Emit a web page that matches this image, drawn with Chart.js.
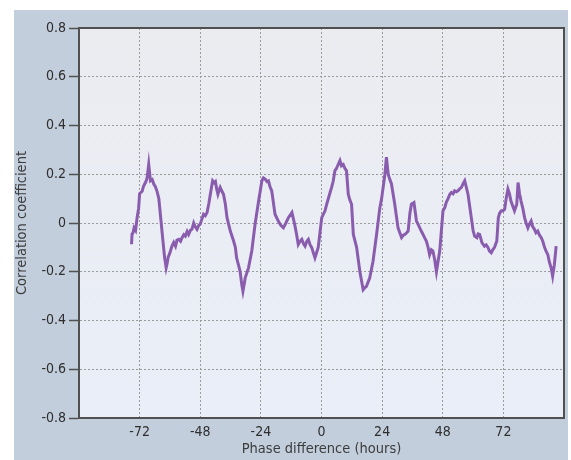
<!DOCTYPE html>
<html>
<head>
<meta charset="utf-8">
<script src="https://cdn.jsdelivr.net/npm/chart.js@4/dist/chart.umd.min.js"></script>
<style>
  html, body { margin: 0; padding: 0; background: #ffffff; }
  #wrap { width: 571px; height: 460px; }
</style>
</head>
<body>
<div id="wrap"><canvas id="corrChart" width="571" height="460"></canvas></div>
<script>
// phase difference in hours and the correlation at each lag
var phaseHours = [
    -75.2, -75.0, -74.6, -74.2, -73.6, -73.0, -72.4, -72.0, -71.0, -70.5,
    -70.0, -69.5, -69.0, -68.4, -68.0, -67.7, -67.0, -66.4, -65.8, -65.1,
    -64.4, -63.8, -62.9, -62.1, -61.5, -61.1, -60.7, -60.2, -59.8, -59.2,
    -58.5, -57.8, -57.2, -56.5, -55.8, -55.2, -54.5, -53.9, -53.2, -52.6,
    -51.9, -51.3, -50.6, -50.0, -49.3, -48.6, -48.0, -47.4, -46.7, -46.0,
    -45.3, -44.6, -44.0, -43.1, -42.5, -42.0, -41.5, -41.0, -40.5, -40.1,
    -39.4, -38.8, -38.1, -37.4, -36.1, -34.8, -34.1, -33.6, -32.8, -32.2,
    -31.6, -31.1, -30.6, -30.2, -28.9, -27.6, -26.3, -24.9, -23.6, -23.0,
    -22.3, -21.6, -21.0, -20.4, -19.7, -18.4, -17.1, -16.1, -15.1, -14.1,
    -13.1, -11.7, -10.5, -9.8, -9.2, -8.5, -7.8, -7.1, -6.5, -5.8,
    -5.2, -4.5, -3.9, -2.6, -1.9, -1.3, 0.1, 0.7, 1.4, 2.0,
    2.7, 3.4, 4.0, 4.6, 5.3, 6.0, 6.6, 7.3, 7.9, 8.6,
    9.2, 9.9, 10.6, 11.2, 11.9, 12.6, 13.9, 15.2, 16.5, 17.2,
    17.8, 19.1, 20.4, 21.8, 23.1, 23.8, 24.4, 25.1, 25.7, 26.4,
    27.0, 27.7, 29.0, 30.3, 31.0, 31.7, 32.4, 33.0, 33.7, 34.3,
    35.0, 35.6, 36.6, 37.6, 38.2, 38.9, 39.6, 40.2, 40.8, 41.5,
    42.2, 42.8, 43.5, 44.1, 44.8, 45.5, 46.1, 46.8, 48.1, 48.8,
    49.4, 50.1, 50.8, 51.4, 52.1, 52.7, 53.4, 54.0, 54.7, 55.4,
    56.0, 56.7, 58.0, 59.3, 60.0, 60.6, 61.5, 62.0, 62.6, 63.5,
    64.5, 65.2, 65.9, 66.5, 67.2, 67.8, 68.5, 69.4, 70.0, 70.5,
    71.2, 71.8, 72.5, 73.1, 73.8, 74.4, 75.0, 75.7, 76.4, 77.3,
    77.8, 78.4, 79.0, 79.7, 80.4, 81.0, 81.7, 82.3, 83.0, 83.6,
    84.3, 84.9, 85.6, 86.3, 87.0, 87.6, 88.3, 88.9, 89.6, 90.2,
    90.9, 91.5, 92.2, 92.9
];
var correlation = [
    -0.087, -0.045, -0.040, -0.020, -0.030, 0.022, 0.060, 0.120, 0.130, 0.150,
    0.160, 0.170, 0.187, 0.240, 0.200, 0.173, 0.178, 0.160, 0.150, 0.130,
    0.100, 0.037, -0.060, -0.143, -0.184, -0.165, -0.140, -0.128, -0.115, -0.095,
    -0.080, -0.095, -0.070, -0.067, -0.075, -0.060, -0.048, -0.054, -0.035, -0.047,
    -0.030, -0.026, 0.000, -0.015, -0.026, -0.010, -0.005, 0.015, 0.036, 0.030,
    0.043, 0.080, 0.118, 0.173, 0.165, 0.170, 0.140, 0.118, 0.135, 0.146,
    0.130, 0.118, 0.080, 0.022, -0.033, -0.074, -0.100, -0.143, -0.175, -0.200,
    -0.250, -0.280, -0.250, -0.225, -0.184, -0.115, -0.005, 0.090, 0.173, 0.185,
    0.180, 0.170, 0.173, 0.150, 0.132, 0.036, 0.008, -0.010, -0.020, 0.000,
    0.022, 0.043, -0.012, -0.050, -0.088, -0.075, -0.067, -0.085, -0.095, -0.075,
    -0.067, -0.090, -0.100, -0.143, -0.120, -0.100, 0.022, 0.035, 0.050, 0.075,
    0.100, 0.125, 0.146, 0.170, 0.214, 0.225, 0.240, 0.256, 0.235, 0.240,
    0.225, 0.214, 0.118, 0.095, 0.077, -0.047, -0.100, -0.200, -0.274, -0.265,
    -0.260, -0.225, -0.157, -0.047, 0.063, 0.100, 0.146, 0.200, 0.270, 0.200,
    0.180, 0.160, 0.077, -0.020, -0.040, -0.060, -0.050, -0.047, -0.040, -0.033,
    0.040, 0.077, 0.084, 0.008, -0.005, -0.020, -0.035, -0.047, -0.060, -0.074,
    -0.100, -0.130, -0.110, -0.115, -0.150, -0.200, -0.160, -0.115, 0.050, 0.063,
    0.085, 0.100, 0.118, 0.125, 0.120, 0.132, 0.128, 0.132, 0.140, 0.146,
    0.160, 0.173, 0.118, 0.022, -0.030, -0.054, -0.060, -0.045, -0.047, -0.080,
    -0.095, -0.090, -0.100, -0.115, -0.122, -0.110, -0.100, -0.074, 0.022, 0.040,
    0.050, 0.050, 0.056, 0.100, 0.139, 0.120, 0.090, 0.070, 0.050, 0.077,
    0.166, 0.120, 0.090, 0.060, 0.022, 0.000, -0.020, -0.005, 0.008, -0.015,
    -0.026, -0.040, -0.033, -0.050, -0.060, -0.075, -0.100, -0.115, -0.130, -0.160,
    -0.184, -0.218, -0.170, -0.095
];
var xTickValues = [-72, -48, -24, 0, 24, 48, 72];
var yTickValues = [-0.8, -0.6, -0.4, -0.2, 0, 0.2, 0.4, 0.6, 0.8];

var points = phaseHours.map(function(h, i) {
    return { x: h, y: correlation[i] };
});

// grey panel behind the chart and the shaded plot area
var panelPlugin = {
    id: 'panel',
    beforeDraw: function(chart) {
        var ctx = chart.ctx;
        var area = chart.chartArea;
        ctx.save();
        ctx.fillStyle = '#ffffff';
        ctx.fillRect(0, 0, chart.width, chart.height);
        ctx.fillStyle = '#c3cedc';
        ctx.fillRect(14, 10, 554, 450);
        var grad = ctx.createLinearGradient(0, area.top, 0, area.bottom);
        grad.addColorStop(0, '#ebecf0');
        grad.addColorStop(1, '#e9eef8');
        ctx.fillStyle = grad;
        ctx.fillRect(area.left, area.top, area.right - area.left, area.bottom - area.top);
        ctx.restore();
    },
    afterDatasetsDraw: function(chart) {
        var ctx = chart.ctx;
        var area = chart.chartArea;
        ctx.save();
        ctx.strokeStyle = '#505050';
        ctx.lineWidth = 2;
        ctx.beginPath();
        ctx.moveTo(area.left, area.top);
        ctx.lineTo(area.right, area.top);
        ctx.lineTo(area.right, area.bottom);
        ctx.stroke();
        ctx.restore();
    }
};

var tickFont = { family: 'DejaVu Sans Condensed', size: 14 };
var titleFont = { family: 'DejaVu Sans Condensed', size: 14.5 };

var chart = new Chart(document.getElementById('corrChart'), {
    type: 'line',
    data: {
        datasets: [{
            label: 'Correlation',
            data: points,
            borderColor: '#8a5cae',
            borderWidth: 3,
            pointRadius: 0,
            tension: 0,
            fill: false
        }]
    },
    options: {
        responsive: false,
        animation: false,
        layout: { padding: { left: 14, right: 7, top: 28, bottom: 0 } },
        plugins: {
            legend: { display: false },
            tooltip: { enabled: false }
        },
        scales: {
            x: {
                type: 'linear',
                min: -96,
                max: 96,
                afterBuildTicks: function(scale) {
                    scale.ticks = xTickValues.map(v => ({ value: v }));
                },
                afterFit: function(scale) {
                    scale.height = 42;
                },
                grid: {
                    color: '#9a9a9a',
                    lineWidth: 1,
                    drawTicks: false
                },
                border: { color: '#505050', width: 2, dash: [2, 2] },
                ticks: {
                    color: '#2e2e2e',
                    font: tickFont,
                    padding: 6,
                    maxRotation: 0,
                    callback: function(value) {
                        return String(value);
                    }
                },
                title: {
                    display: true,
                    text: 'Phase difference (hours)',
                    color: '#3c3c3c',
                    font: titleFont,
                    padding: { top: 0, bottom: 2 }
                }
            },
            y: {
                min: -0.8,
                max: 0.8,
                afterBuildTicks: function(scale) {
                    scale.ticks = yTickValues.map(v => ({ value: v }));
                },
                afterFit: function(scale) {
                    scale.width = 65;
                },
                grid: {
                    color: '#9a9a9a',
                    lineWidth: 1,
                    tickColor: '#505050',
                    tickWidth: 1.5,
                    tickLength: 10,
                    tickBorderDash: []
                },
                border: { color: '#505050', width: 2, dash: [2, 2] },
                ticks: {
                    color: '#2e2e2e',
                    font: tickFont,
                    padding: 3,
                    callback: function(value) {
                        return value === 0 ? '0' : value.toFixed(1);
                    }
                },
                title: {
                    display: true,
                    text: 'Correlation coefficient',
                    color: '#3c3c3c',
                    font: titleFont,
                    padding: { top: 0, bottom: 0 }
                }
            }
        }
    },
    plugins: [panelPlugin]
});
</script>
</body>
</html>
